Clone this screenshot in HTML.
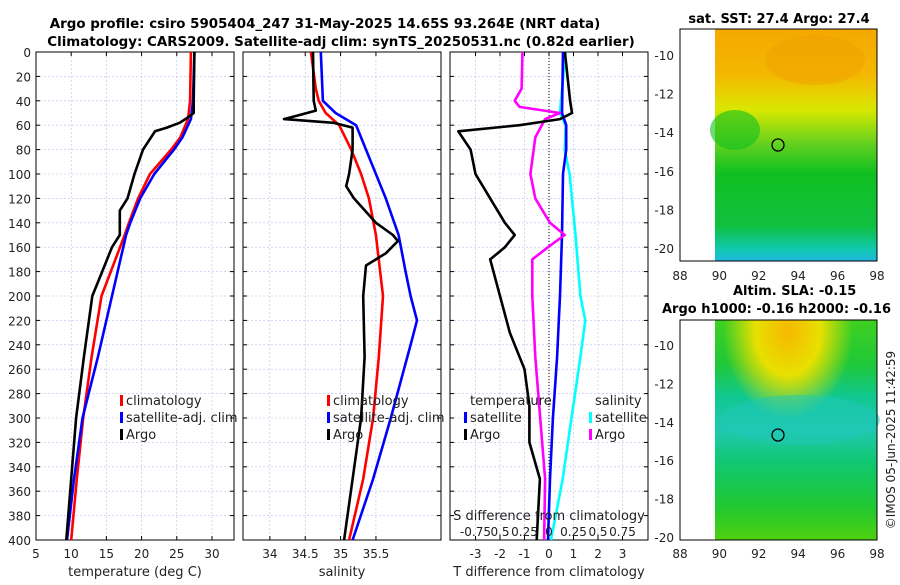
<!DOCTYPE html>
<html><head><meta charset="utf-8"><style>
body{margin:0;background:#fff;}
svg text{font-family:"DejaVu Sans","Liberation Sans",sans-serif;fill:#222;}
</style></head><body>
<svg id="fig" width="900" height="580" viewBox="0 0 900 580" xmlns="http://www.w3.org/2000/svg">
<defs>
<linearGradient id="sstg" x1="0" y1="0" x2="0" y2="1">
<stop offset="0" stop-color="#f5a800"/><stop offset="0.2" stop-color="#f4b800"/><stop offset="0.35" stop-color="#d8e800"/>
<stop offset="0.5" stop-color="#60d020"/><stop offset="0.62" stop-color="#10c020"/><stop offset="0.85" stop-color="#10c040"/>
<stop offset="0.95" stop-color="#10c8b0"/><stop offset="1" stop-color="#20b8e0"/></linearGradient>
<radialGradient id="slaY" cx="0.45" cy="0.05" r="0.4"><stop offset="0" stop-color="#f5b800"/><stop offset="0.5" stop-color="#e8e000"/><stop offset="1" stop-color="#e8e000" stop-opacity="0"/></radialGradient>
<linearGradient id="slag" x1="0" y1="0" x2="0" y2="1">
<stop offset="0" stop-color="#40d020"/><stop offset="0.2" stop-color="#20c838"/><stop offset="0.35" stop-color="#10c890"/>
<stop offset="0.5" stop-color="#20c8b0"/><stop offset="0.65" stop-color="#10c870"/><stop offset="0.85" stop-color="#20c830"/><stop offset="1" stop-color="#50d010"/></linearGradient>
</defs>
<text x="325" y="28" text-anchor="middle" font-size="13.4" font-weight="bold" style="fill:#000">Argo profile: csiro 5905404_247 31-May-2025 14.65S 93.264E (NRT data)</text>
<text x="341" y="46" text-anchor="middle" font-size="13.4" font-weight="bold" style="fill:#000">Climatology: CARS2009. Satellite-adj clim: synTS_20250531.nc (0.82d earlier)</text>
<g id="plots"></g>
<g>
<text x="779" y="23" text-anchor="middle" font-size="13" font-weight="bold" style="fill:#000">sat. SST: 27.4 Argo: 27.4</text>
<rect x="680" y="29" width="197" height="232" fill="#fff" stroke="#000"/>
<rect x="715" y="29" width="162" height="232" fill="url(#sstg)"/>
<ellipse cx="815" cy="60" rx="50" ry="25" fill="#f0a000" opacity="0.5"/>
<ellipse cx="735" cy="130" rx="25" ry="20" fill="#10c020" opacity="0.6"/>
<circle cx="778" cy="145" r="6" fill="none" stroke="#000" stroke-width="1.3"/>
<rect x="680" y="29" width="197" height="232" fill="none" stroke="#000"/>
</g>
<g>
<text x="733" y="295" font-size="13" font-weight="bold" style="fill:#000">Altim. SLA: -0.15</text>
<text x="662" y="313" font-size="13" font-weight="bold" style="fill:#000">Argo h1000: -0.16 h2000: -0.16</text>
<rect x="680" y="320" width="197" height="220" fill="#fff" stroke="#000"/>
<rect x="715" y="320" width="162" height="220" fill="url(#slag)"/>
<rect x="715" y="320" width="162" height="220" fill="url(#slaY)"/>
<ellipse cx="800" cy="420" rx="80" ry="25" fill="#20c8b8" opacity="0.5"/>
<circle cx="778" cy="435" r="6" fill="none" stroke="#000" stroke-width="1.3"/>
<rect x="680" y="320" width="197" height="220" fill="none" stroke="#000"/>
</g>
<text transform="translate(895,440) rotate(-90)" text-anchor="middle" font-size="12">©IMOS 05-Jun-2025 11:42:59</text>
</svg>
<script>
const depthT=[0,40,50,54,58,62,65,80,100,120,130,150,160,180,200,250,300,350,400];
const tempArgo=[27.5,27.4,27.4,26.5,25.4,23.6,21.9,20.2,19,18,16.9,16.9,15.8,14.4,13,11.8,10.7,10,9.3];
const depthC=[0,40,55,70,80,100,120,140,150,200,250,300,350,400];
const tempClim=[27,26.9,26.6,25.5,24.2,21.2,19.5,18.2,17.6,14.3,12.9,11.7,10.8,10];
const tempSat=[27.5,27.3,27.0,25.8,24.6,21.8,19.8,18.4,17.8,15.8,13.8,11.6,10.4,9.4];
const depthS=[0,40,48,52,55,58,62,65,80,100,110,120,140,150,155,165,175,200,250,300,350,400];
const salArgo=[34.61,34.62,34.65,34.4,34.2,34.9,35.17,35.17,35.17,35.12,35.08,35.19,35.5,35.74,35.81,35.64,35.36,35.32,35.34,35.29,35.17,35.05];
const depthSC=[0,30,40,50,60,80,100,120,150,200,250,300,350,400];
const salClim=[34.58,34.65,34.69,34.79,34.98,35.15,35.29,35.40,35.50,35.60,35.54,35.46,35.32,35.12];
const depthSS=[0,40,50,60,80,100,120,150,180,200,220,240,300,350,400];
const salSat=[34.72,34.75,34.93,35.22,35.36,35.50,35.64,35.82,35.92,35.99,36.08,35.99,35.71,35.46,35.17];
const depthD=[0,40,50,55,60,65,80,100,120,140,150,160,170,200,230,260,290,320,350,400];
const tDiffArgo=[0.65,0.86,0.94,0.45,-1.2,-3.7,-3.2,-3.0,-2.4,-1.8,-1.4,-1.8,-2.4,-2.0,-1.6,-1.0,-0.8,-0.8,-0.37,-0.5];
const depthD2=[0,50,60,80,100,150,200,220,250,300,350,400];
const tDiffSat=[0.57,0.53,0.7,0.7,0.57,0.53,0.45,0.4,0.33,0.16,0.04,-0.04];
const sDiffSat=[0.17,0.11,0.17,0.16,0.21,0.27,0.32,0.37,0.32,0.23,0.14,0.02];
const depthM=[0,30,40,45,50,55,70,100,120,140,150,160,170,200,250,300,350,400];
const sDiffArgo=[-0.27,-0.28,-0.35,-0.3,0.11,-0.04,-0.14,-0.19,-0.14,0.01,0.16,-0.01,-0.17,-0.17,-0.14,-0.09,-0.04,-0.05];
const depthTicks=[0,20,40,60,80,100,120,140,160,180,200,220,240,260,280,300,320,340,360,380,400];
const tTicks=[5,10,15,20,25,30];
const sTicks=[34,34.5,35,35.5];
const dTicks=[-3,-2,-1,0,1,2,3];
const sdTickLabels=["-0.75","0.5","0.25","0","0.25","0.5","0.75"];

const NS="http://www.w3.org/2000/svg";
const g=document.getElementById('plots');
const T=52,B=540;
const yS=d=>T+(d/400)*(B-T);
function mk(tag,at){const e=document.createElementNS(NS,tag);for(const k in at)e.setAttribute(k,at[k]);g.appendChild(e);return e;}
const panels=[
 {L:36,R:234,x0:5,x1:33.13,ticks:tTicks,label:"temperature (deg C)",name:"temperature"},
 {L:243,R:441,x0:33.62,x1:36.42,ticks:sTicks,label:"salinity",name:"salinity"},
 {L:450,R:648,x0:-4.04,x1:4.04,ticks:dTicks,label:"T difference from climatology",name:"difference"}];
panels.forEach((p,i)=>{
 p.xS=v=>p.L+(v-p.x0)/(p.x1-p.x0)*(p.R-p.L);
 depthTicks.forEach(d=>{const l=mk('line',{x1:p.L,x2:p.R,y1:yS(d),y2:yS(d),stroke:'#b8bfe8','stroke-width':0.6,'stroke-dasharray':'2,2'});
  
  mk('line',{x1:p.L,x2:p.L+4,y1:yS(d),y2:yS(d),stroke:'#000'});mk('line',{x1:p.R-4,x2:p.R,y1:yS(d),y2:yS(d),stroke:'#000'});});
 p.ticks.forEach((v,k)=>{const x=p.xS(v);
  const l=mk('line',{x1:x,x2:x,y1:T,y2:B,stroke:'#b8bfe8','stroke-width':0.6,'stroke-dasharray':'2,2'});
  
  mk('line',{x1:x,x2:x,y1:B-4,y2:B,stroke:'#000'});mk('line',{x1:x,x2:x,y1:T,y2:T+4,stroke:'#000'});
  const t=mk('text',{x:x,y:B+18,'text-anchor':'middle','font-size':12});t.textContent=v;
  });
 const f=mk('rect',{x:p.L,y:T,width:p.R-p.L,height:B-T,fill:'none',stroke:'#000'});
 
 const xl=mk('text',{x:(p.L+p.R)/2,y:B+36,'text-anchor':'middle','font-size':13});xl.textContent=p.label;
 
});
depthTicks.forEach(d=>{const t=mk('text',{x:31,y:yS(d)+5,'text-anchor':'end','font-size':12});t.textContent=d;
 });
[-10,-12,-14,-16,-18,-20].forEach(v=>{
 const y1=55+(-10-v)/2*38.6, y2=345+(-10-v)/2*38.4;
 [y1,y2].forEach(y=>{const t=mk('text',{x:674,y:y+5,'text-anchor':'end','font-size':12});t.textContent=v;
 
 mk('line',{x1:873,x2:877,y1:y,y2:y,stroke:'#000'});});});
[88,90,92,94,96,98].forEach(v=>{const x=680+(v-88)/2*39.4;
 [280,558].forEach(y=>{const t=mk('text',{x:x,y:y,'text-anchor':'middle','font-size':12});t.textContent=v;
 });});
const p3=panels[2];
const z=mk('line',{x1:p3.xS(0),x2:p3.xS(0),y1:T,y2:B,stroke:'#000','stroke-dasharray':'1,2'});

function line(p,xs,ds,col,name,scale){const pts=xs.map((v,i)=>p.xS(v*(scale||1)).toFixed(1)+','+yS(ds[i]).toFixed(1)).join(' ');
 const e=mk('polyline',{points:pts,fill:'none',stroke:col,'stroke-width':2.6,'stroke-linejoin':'round'});
 }
line(panels[0],tempClim,depthC,'#ff0000','temp-climatology-line');
line(panels[0],tempSat,depthC,'#0000ff','temp-satellite-line');
line(panels[0],tempArgo,depthT,'#000','temp-argo-line');
line(panels[1],salClim,depthSC,'#ff0000','sal-climatology-line');
line(panels[1],salSat,depthSS,'#0000ff','sal-satellite-line');
line(panels[1],salArgo,depthS,'#000','sal-argo-line');
line(p3,sDiffSat,depthD2,'#00ffff','sdiff-satellite-line',4);
line(p3,tDiffSat,depthD2,'#0000ff','tdiff-satellite-line');
line(p3,sDiffArgo,depthM,'#ff00ff','sdiff-argo-line',4);
line(p3,tDiffArgo,depthD,'#000','tdiff-argo-line');
function leg(x,y,col,txt,name){const r=mk('rect',{x:x,y:y-10,width:3,height:11,fill:col});
 const t=mk('text',{x:x+6,y:y,'font-size':13});t.textContent=txt;}
leg(120,405,'#ff0000','climatology','legend-climatology');
leg(120,422,'#0000ff','satellite-adj. clim','legend-satellite');
leg(120,439,'#000','Argo','legend-argo');
leg(327,405,'#ff0000','climatology','legend2-climatology');
leg(327,422,'#0000ff','satellite-adj. clim','legend2-satellite');
leg(327,439,'#000','Argo','legend2-argo');
let t=mk('text',{x:470,y:405,'font-size':13});t.textContent='temperature';

t=mk('text',{x:595,y:405,'font-size':13});t.textContent='salinity';

leg(464,422,'#0000ff','satellite','legend-tdiff-satellite');
leg(464,439,'#000','Argo','legend-tdiff-argo');
leg(589,422,'#00ffff','satellite','legend-sdiff-satellite');
leg(589,439,'#ff00ff','Argo','legend-sdiff-argo');
t=mk('text',{x:549,y:520,'text-anchor':'middle','font-size':13});t.textContent='S difference from climatology';

dTicks.forEach((v,k)=>{const tt=mk('text',{x:p3.xS(v),y:536,'text-anchor':'middle','font-size':12});tt.textContent=sdTickLabels[k];
 });
</script>
</body></html>
